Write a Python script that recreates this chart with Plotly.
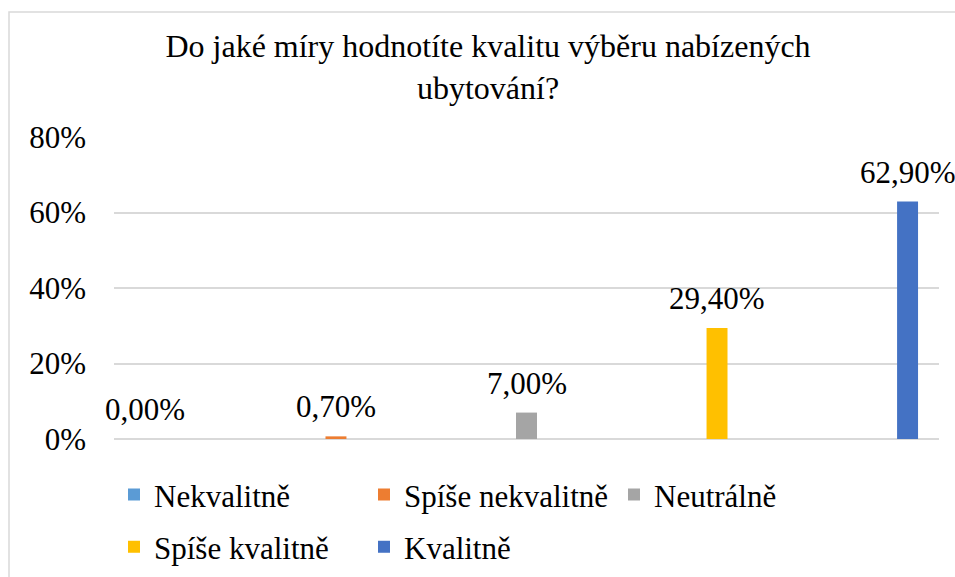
import plotly.graph_objects as go

categories = ["Nekvalitně", "Spíše nekvalitně", "Neutrálně", "Spíše kvalitně", "Kvalitně"]
values = [0.0, 0.007, 0.07, 0.294, 0.629]
colors = ["#5B9BD5", "#ED7D31", "#A5A5A5", "#FFC000", "#4472C4"]
legend_rows = ["legend", "legend", "legend", "legend2", "legend2"]
tick_vals = [0, 0.2, 0.4, 0.6, 0.8]
title_text = "Do jaké míry hodnotíte kvalitu výběru nabízených<br>ubytování?"

FONT = "Liberation Serif"

fig = go.Figure()
for i, (cat, val, col, lg) in enumerate(zip(categories, values, colors, legend_rows)):
    fig.add_trace(go.Bar(
        x=[i], y=[val], name=cat, marker=dict(color=col, line=dict(width=0)),
        width=0.11, showlegend=True, legend=lg,
    ))
    fig.add_annotation(
        x=i, y=val, xref="x", yref="y", text=f"{val*100:.2f}%".replace(".", ","),
        showarrow=False, yanchor="bottom", yshift=10,
        font=dict(family=FONT, size=31, color="black"),
    )

legend_common = dict(orientation="h", xanchor="left", yanchor="middle",
                     xref="paper", entrywidth=205, entrywidthmode="pixels",
                     font=dict(family=FONT, size=31, color="black"),
                     bgcolor="rgba(0,0,0,0)", traceorder="normal")

fig.update_layout(
    width=955, height=577,
    font=dict(family=FONT, color="black"),
    paper_bgcolor="white", plot_bgcolor="white",
    separators=", ",
    margin=dict(l=114, r=16, t=137, b=138, autoexpand=False),
    title=dict(text=title_text, x=0.511, xanchor="center", y=1 - 57/577, yanchor="top",
               font=dict(family=FONT, size=32, color="black")),
    xaxis=dict(range=[-0.165, 4.165], showticklabels=False, showgrid=False,
               zeroline=False, showline=False, ticks=""),
    yaxis=dict(range=[0, 0.8], tickvals=tick_vals, tickformat=".0%",
               showgrid=True, gridcolor="#D9D9D9", gridwidth=1.5,
               zeroline=True, zerolinecolor="#D9D9D9", zerolinewidth=1.5,
               showline=False, ticks="", ticklen=0, ticklabelstandoff=27,
               tickfont=dict(family=FONT, size=31, color="black")),
    legend=dict(x=0.0, y=-0.185, **legend_common),
    legend2=dict(x=0.0, y=-0.358, **legend_common),
    shapes=[dict(type="rect", xref="paper", yref="paper",
                 x0=-105/825, x1=1.05, y0=-1.0, y1=1 + 125/302,
                 line=dict(color="#D9D9D9", width=1.5), fillcolor="rgba(0,0,0,0)",
                 layer="below")],
)

post_js = (
    "document.body.style.margin='0';"
    "var st=document.createElement('style');"
    "st.textContent=\".main-svg text{font-family:'Liberation Serif','Times New Roman',Tinos,serif !important;}\";"
    "document.head.appendChild(st);"
)

fig.write_html("out.html", post_script=post_js, config={"displayModeBar": False})
